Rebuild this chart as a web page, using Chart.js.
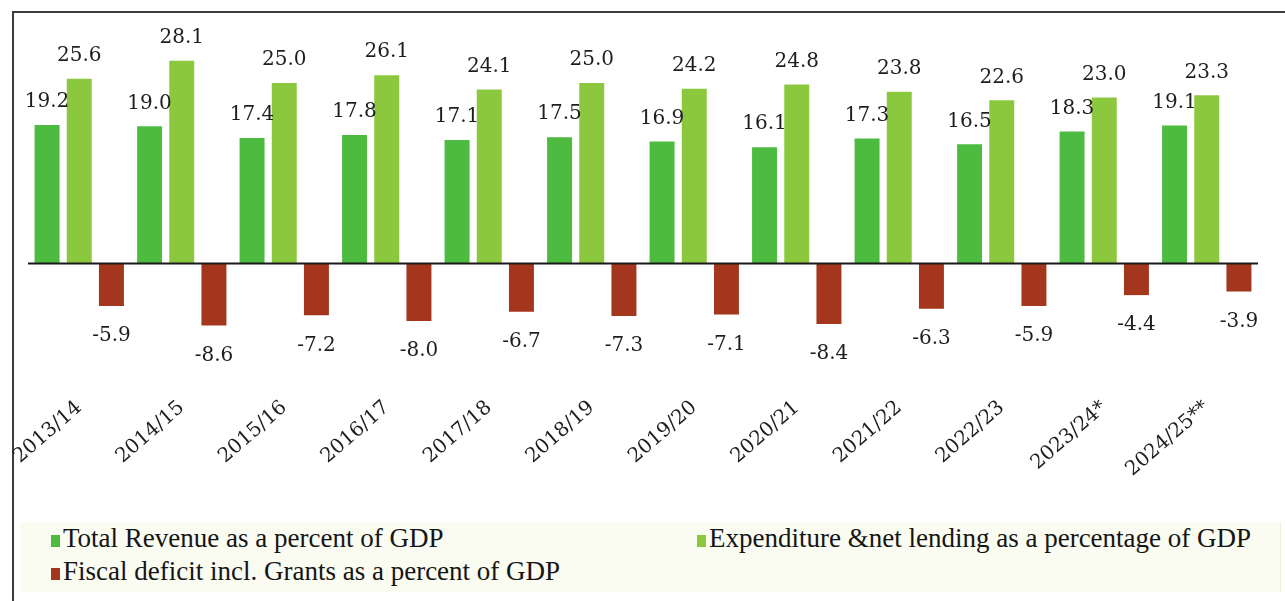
<!DOCTYPE html>
<html>
<head>
<meta charset="utf-8">
<script src="https://cdn.jsdelivr.net/npm/chart.js@4"></script>
<style>
  body { margin: 0; background: #fff; }
  #wrap { position: relative; width: 1285px; height: 601px; overflow: hidden; }
  #frame { position: absolute; left: 12px; top: 11px; right: -5px; bottom: -5px;
           border-top: 2px solid #3c3c3c; border-left: 2px solid #3c3c3c; }
  #chart { position: absolute; left: 0; top: 0; }
  #legendBox { position: absolute; left: 20px; top: 522px; width: 1260px; height: 70px;
               background: #fafbf1; border-right: 1px solid #eceedd; }
  .item { position: absolute; font-family: "Liberation Serif", serif; font-size: 27px;
          line-height: 30px; color: #151515; white-space: nowrap; }
  .swatch { display: inline-block; width: 9px; height: 12px; margin-right: 3px; }
</style>
</head>
<body>
<div id="wrap">
  <div id="frame"></div>
  <div id="legendBox"></div>
  <canvas id="chart" width="1285" height="515"></canvas>
  <div id="legend"></div>
</div>
<script>
// Fiscal indicators, percent of GDP
const years = ['2013/14', '2014/15', '2015/16', '2016/17', '2017/18', '2018/19',
               '2019/20', '2020/21', '2021/22', '2022/23', '2023/24*', '2024/25**'];
const revenue = [19.2, 19.0, 17.4, 17.8, 17.1, 17.5, 16.9, 16.1, 17.3, 16.5, 18.3, 19.1];
const expenditure = [25.6, 28.1, 25.0, 26.1, 24.1, 25.0, 24.2, 24.8, 23.8, 22.6, 23.0, 23.3];
const deficit = [-5.9, -8.6, -7.2, -8.0, -6.7, -7.3, -7.1, -8.4, -6.3, -5.9, -4.4, -3.9];

const seriesNames = ['Total Revenue as a percent of GDP',
                     'Expenditure &net lending as a percentage of GDP',
                     'Fiscal deficit incl. Grants as a percent of GDP'];
const seriesColors = ['#4dbb3f', '#8cc83e', '#a3361d'];

// zero line and the numbers above / below each bar
const barLabels = {
  id: 'barLabels',
  afterDatasetsDraw(chart) {
    const ctx = chart.ctx;
    const area = chart.chartArea;
    const y0 = chart.scales.y.getPixelForValue(0);
    ctx.save();
    ctx.strokeStyle = '#1a1a1a';
    ctx.lineWidth = 2;
    ctx.beginPath();
    ctx.moveTo(area.left, y0);
    ctx.lineTo(area.right, y0);
    ctx.stroke();

    ctx.font = '20px "DejaVu Serif"';
    ctx.fillStyle = '#1e1e1e';
    ctx.textAlign = 'center';
    ctx.textBaseline = 'middle';
    chart.data.datasets.forEach((ds, i) => {
      chart.getDatasetMeta(i).data.forEach((bar, j) => {
        const v = ds.data[j];
        const y = v >= 0 ? bar.y - 23 : bar.y + 30;
        ctx.fillText(v.toFixed(1), bar.x, y);
      });
    });
    ctx.restore();
  }
};

const chart = new Chart(document.getElementById('chart'), {
  type: 'bar',
  data: {
    labels: years,
    datasets: [
      { label: seriesNames[0], data: revenue, backgroundColor: seriesColors[0] },
      { label: seriesNames[1], data: expenditure, backgroundColor: seriesColors[1] },
      { label: seriesNames[2], data: deficit, backgroundColor: seriesColors[2] }
    ]
  },
  options: {
    responsive: false,
    animation: false,
    devicePixelRatio: 1,
    datasets: { bar: { barPercentage: 0.776, categoryPercentage: 0.942, borderWidth: 0 } },
    layout: { padding: { left: 28, right: 27, top: 47, bottom: 0 } },
    plugins: { legend: { display: false }, tooltip: { enabled: false } },
    scales: {
      x: {
        grid: { display: false, drawTicks: false },
        border: { display: false },
        ticks: {
          autoSkip: false,
          minRotation: 41,
          maxRotation: 41,
          padding: 10,
          color: '#1e1e1e',
          font: { family: 'DejaVu Serif', size: 20 }
        },
        // fixed axis band keeps the plot bottom at the same place
        afterFit(scale) { scale.height = 129; }
      },
      y: { display: false, min: -17, max: 30 }
    }
  },
  plugins: [barLabels]
});

// legend in two columns, built from the datasets
const legend = document.getElementById('legend');
const spots = [[51, 523], [697, 523], [51, 556]];
chart.data.datasets.forEach((ds, i) => {
  const item = document.createElement('div');
  item.className = 'item';
  item.style.left = spots[i][0] + 'px';
  item.style.top = spots[i][1] + 'px';
  const sw = document.createElement('span');
  sw.className = 'swatch';
  sw.style.background = ds.backgroundColor;
  item.appendChild(sw);
  item.appendChild(document.createTextNode(ds.label));
  legend.appendChild(item);
});
</script>
</body>
</html>
